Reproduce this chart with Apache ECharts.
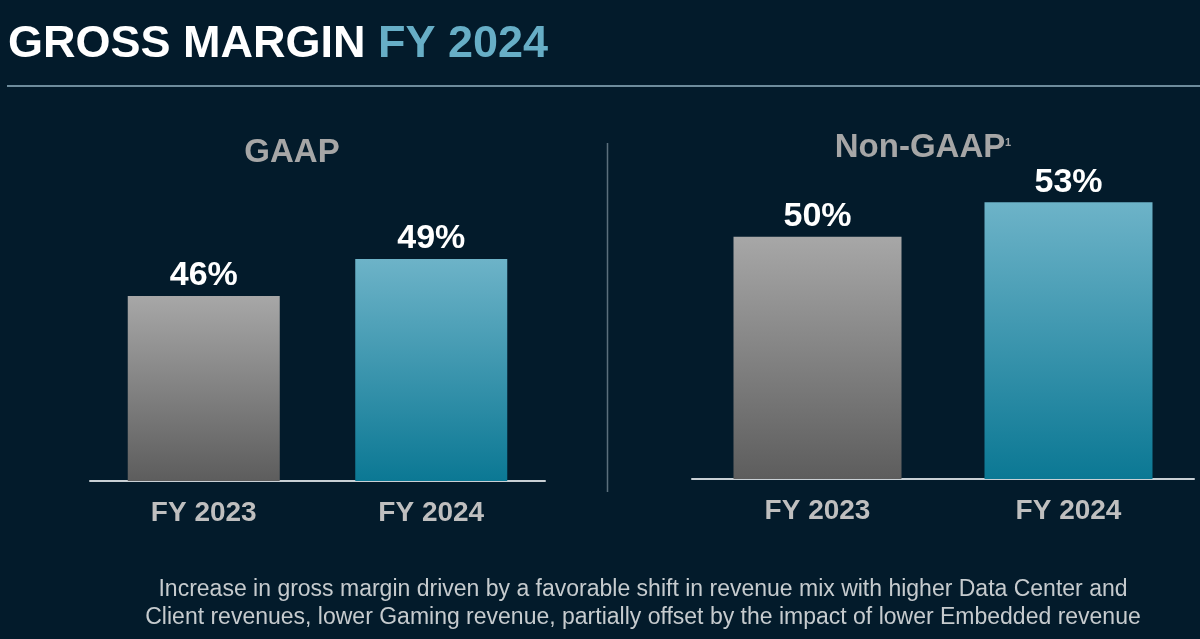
<!DOCTYPE html>
<html>
<head>
<meta charset="utf-8">
<script src="https://cdn.jsdelivr.net/npm/echarts@6/dist/echarts.min.js"></script>
<style>
  html, body { margin: 0; padding: 0; background: #031b2b; }
  #chart1 { width: 1200px; height: 639px; }
</style>
</head>
<body>
<div id="chart1"></div>
<script>
// data
var categories = ["FY 2023", "FY 2024"];
var gaapValues = [46, 49];      // GAAP gross margin, %
var nonGaapValues = [50, 53];   // Non-GAAP gross margin, %
var footLines = [
    "Increase in gross margin driven by a favorable shift in revenue mix with higher Data Center and",
    "Client revenues, lower Gaming revenue, partially offset by the impact of lower Embedded revenue"
];

var FONT = "Liberation Sans, Arial, sans-serif";

var greyFill = new echarts.graphic.LinearGradient(0, 0, 0, 1, [
    {offset: 0, color: "#a7a7a7"},
    {offset: 1, color: "#5d5d5d"}
]);
var blueFill = new echarts.graphic.LinearGradient(0, 0, 0, 1, [
    {offset: 0, color: "#6db3c8"},
    {offset: 1, color: "#0b7894"}
]);
var fills = [greyFill, blueFill];

var barData = function (arr) {
    return arr.map(function (v, i) {
        return {value: v, itemStyle: {color: fills[i]}};
    });
};

var xAxisBase = function (idx) {
    return {
        type: "category",
        gridIndex: idx,
        data: categories,
        axisLine: {lineStyle: {color: "#c9d0d5", width: 2}},
        axisTick: {show: false},
        axisLabel: {
            color: "#bfbfbf",
            fontFamily: FONT,
            fontWeight: "bold",
            fontSize: 28,
            margin: 18
        }
    };
};
var yAxisBase = function (idx, min, max) {
    return {
        type: "value",
        gridIndex: idx,
        min: min,
        max: max,
        show: false,
        splitLine: {show: false}
    };
};
var labelStyle = {
    show: true,
    position: "top",
    distance: 3,
    formatter: "{c}%",
    color: "#ffffff",
    fontFamily: FONT,
    fontWeight: "bold",
    fontSize: 34
};

var marginChart = echarts.init(document.getElementById("chart1"));
var marginOption = {
    backgroundColor: "#031b2b",
    animation: false,
    title: {
        left: 3,
        top: 17,
        text: "{w|GROSS MARGIN }{b|FY 2024}",
        textStyle: {
            rich: {
                w: {color: "#ffffff", fontFamily: FONT, fontWeight: "bold", fontSize: 45},
                b: {color: "#67aec6", fontFamily: FONT, fontWeight: "bold", fontSize: 45}
            }
        }
    },
    grid: [
        {left: 90, right: 655, top: 111, bottom: 158},
        {left: 692, right: 6, top: 133, bottom: 160}
    ],
    xAxis: [xAxisBase(0), xAxisBase(1)],
    yAxis: [yAxisBase(0, 31, 61), yAxisBase(1, 29, 59)],
    series: [
        {name: "GAAP", type: "bar", xAxisIndex: 0, yAxisIndex: 0,
            barWidth: 152, data: barData(gaapValues), label: labelStyle},
        {name: "Non-GAAP", type: "bar", xAxisIndex: 1, yAxisIndex: 1,
            barWidth: 168, data: barData(nonGaapValues), label: labelStyle}
    ],
    graphic: [
        {type: "line", shape: {x1: 7, y1: 86, x2: 1200, y2: 86},
            style: {stroke: "#93b3c3", lineWidth: 1.5}},
        {type: "line", shape: {x1: 607.5, y1: 143, x2: 607.5, y2: 492},
            style: {stroke: "#5b6f7c", lineWidth: 1.5}},
        {type: "text", x: 292, y: 136,
            style: {text: "GAAP", fill: "#a6a6a6", font: "bold 33px " + FONT, textAlign: "center"}},
        {type: "text", x: 920, y: 131,
            style: {text: "Non-GAAP", fill: "#a6a6a6", font: "bold 33px " + FONT, textAlign: "center"}},
        {type: "text", x: 1005, y: 137,
            style: {text: "1", fill: "#a6a6a6", font: "bold 11px " + FONT, textAlign: "left"}},
        {type: "text", x: 643, y: 578,
            style: {text: footLines[0], fill: "#c6cbce", font: "23px " + FONT, textAlign: "center"}},
        {type: "text", x: 643, y: 606,
            style: {text: footLines[1], fill: "#c6cbce", font: "23px " + FONT, textAlign: "center"}}
    ]
};
marginChart.setOption(marginOption);
</script>
</body>
</html>
